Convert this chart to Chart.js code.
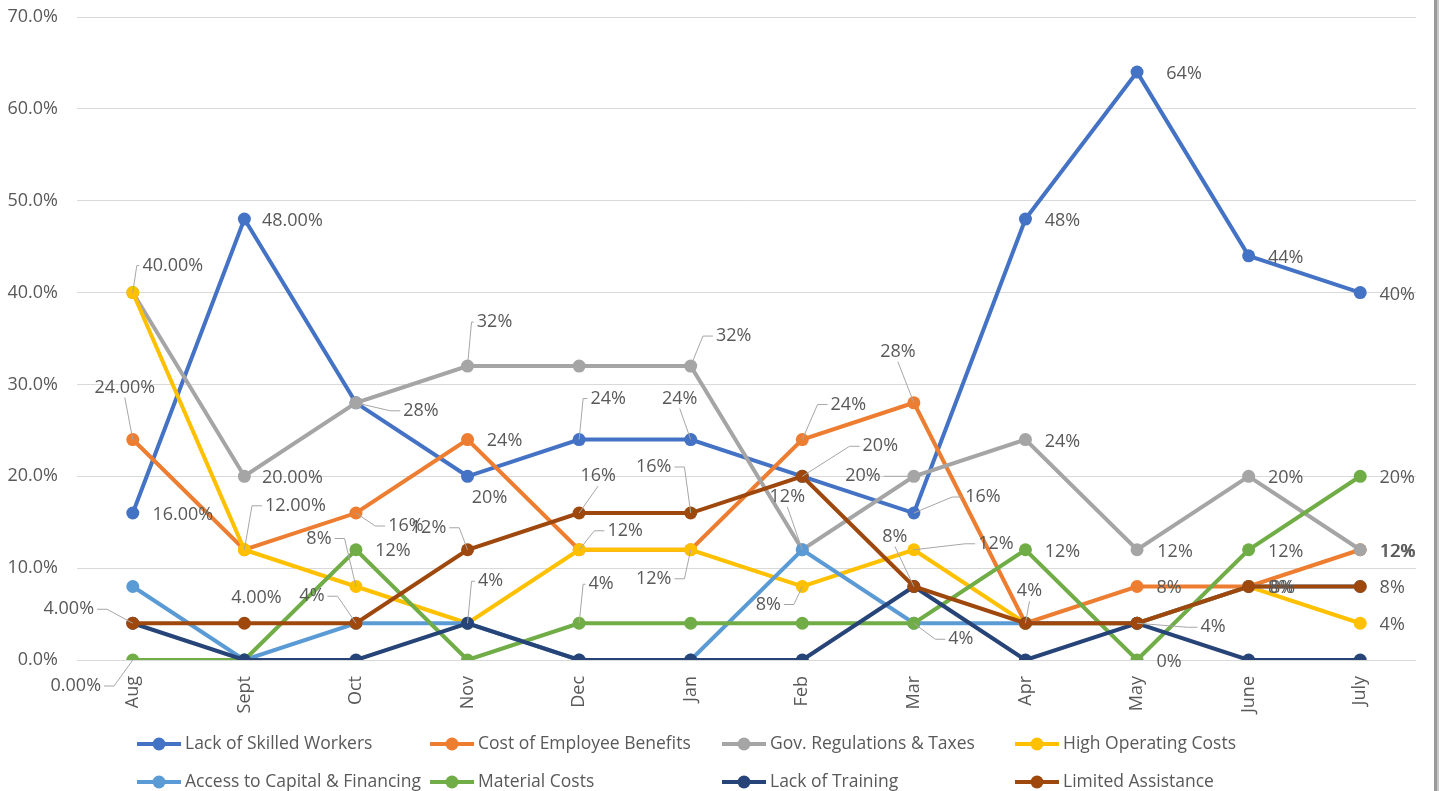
<!DOCTYPE html>
<html>
<head>
<meta charset="utf-8">
<script src="https://cdn.jsdelivr.net/npm/chart.js@4.4.1/dist/chart.umd.min.js"></script>
<style>
  body { margin: 0; background: #fff; }
  canvas { display: block; }
</style>
</head>
<body>
<canvas id="trend" width="1439" height="791"></canvas>
<script>
var months = ['Aug', 'Sept', 'Oct', 'Nov', 'Dec', 'Jan', 'Feb', 'Mar', 'Apr', 'May', 'June', 'July'];
var yTicks = [0, 10, 20, 30, 40, 50, 60, 70];

var seriesNames = ['Lack of Skilled Workers', 'Cost of Employee Benefits', 'Gov. Regulations & Taxes', 'High Operating Costs',
                   'Access to Capital & Financing', 'Material Costs', 'Lack of Training', 'Limited Assistance'];
var skilledWorkers    = [16, 48, 28, 20, 24, 24, 20, 16, 48, 64, 44, 40];
var employeeBenefits  = [24, 12, 16, 24, 12, 12, 24, 28, 4, 8, 8, 12];
var govRegulations    = [40, 20, 28, 32, 32, 32, 12, 20, 24, 12, 20, 12];
var operatingCosts    = [40, 12, 8, 4, 12, 12, 8, 12, 4, 4, 8, 4];
var capitalAccess     = [8, 0, 4, 4, 0, 0, 12, 4, 4, 4, 8, 8];
var materialCosts     = [0, 0, 12, 0, 4, 4, 4, 4, 12, 0, 12, 20];
var lackTraining      = [4, 0, 0, 4, 0, 0, 0, 8, 0, 4, 0, 0];
var limitedAssistance = [4, 4, 4, 12, 16, 16, 20, 8, 4, 4, 8, 8];

var seriesData = [skilledWorkers, employeeBenefits, govRegulations, operatingCosts,
                  capitalAccess, materialCosts, lackTraining, limitedAssistance];
var colors = ['#4472C4', '#ED7D31', '#A5A5A5', '#FFC000', '#5B9BD5', '#70AD47', '#264478', '#9E480E'];

// data labels: [series, point, dx, dy, leader, decimals]
var labelSpecs = [
    [3, 0, 40, -27, 1, 2], [1, 0, -8, -52, 1, 2], [0, 0, 50, 2, 0, 2], [7, 0, -64, -14, 1, 2], [5, 0, -57, 26, 1, 2],
    [0, 1, 48, 2, 0, 2], [2, 1, 48, 2, 0, 2], [3, 1, 51, -44, 1, 2], [7, 1, 12, -25, 0, 2],
    [2, 2, 65, 8, 1, 0], [1, 2, 50, 13, 1, 0], [3, 2, -37, -48, 1, 0], [5, 2, 37, 1, 0, 0], [7, 2, -44, -27, 1, 0],
    [2, 3, 27, -44, 1, 0], [1, 3, 37, 1, 0, 0], [0, 3, 22, 22, 0, 0], [7, 3, -39, -22, 1, 0], [6, 3, 23, -42, 1, 0],
    [0, 4, 29, -41, 1, 0], [7, 4, 19, -37, 1, 0], [3, 4, 46, -19, 1, 0], [5, 4, 22, -39, 1, 0],
    [0, 5, -11, -41, 1, 0], [2, 5, 43, -30, 1, 0], [7, 5, -37, -46, 1, 0], [1, 5, -37, 29, 1, 0],
    [1, 6, 46, -35, 1, 0], [7, 6, 78, -30, 1, 0], [4, 6, -15, -53, 1, 0], [3, 6, -34, 18, 1, 0],
    [1, 7, -16, -51, 1, 0], [2, 7, -51, 0, 1, 0], [0, 7, 69, -16, 1, 0], [3, 7, 82, -6, 1, 0], [7, 7, -19, -50, 1, 0], [5, 7, 47, 16, 1, 0],
    [0, 8, 37, 2, 0, 0], [2, 8, 37, 2, 0, 0], [5, 8, 37, 2, 0, 0], [7, 8, 4, -32, 1, 0],
    [0, 9, 47, 2, 0, 0], [2, 9, 38, 2, 0, 0], [1, 9, 32, 1, 0, 0], [7, 9, 76, 4, 1, 0], [5, 9, 32, 2, 0, 0],
    [0, 10, 37, 2, 0, 0], [2, 10, 37, 2, 0, 0], [5, 10, 37, 2, 0, 0], [1, 10, 32, 1, 0, 0], [7, 10, 34, 1, 0, 0],
    [0, 11, 37, 2, 0, 0], [5, 11, 37, 2, 0, 0], [2, 11, 37, 2, 0, 0], [1, 11, 38, 2, 0, 0], [7, 11, 32, 1, 0, 0], [3, 11, 32, 2, 0, 0]
];

var FONT = '18px "Open Sans"';
var LEGEND_FONT = '17.5px "Open Sans"';
var TEXT = '#595959';

var labelsPlugin = {
    id: 'pointLabels',
    afterDatasetsDraw: function (chart) {
        var ctx = chart.ctx;
        ctx.save();
        ctx.font = FONT;
        ctx.textAlign = 'center';
        ctx.textBaseline = 'middle';
        labelSpecs.forEach(function (s) {
            var pt = chart.getDatasetMeta(s[0]).data[s[1]];
            var v = seriesData[s[0]][s[1]];
            var txt = v.toFixed(s[5]) + '%';
            var lx = pt.x + s[2], ly = pt.y + s[3];
            if (s[4]) {
                var w = ctx.measureText(txt).width, h = 14;
                ctx.strokeStyle = '#A6A6A6';
                ctx.lineWidth = 1;
                ctx.beginPath();
                if (Math.abs(s[3]) > h / 2 + 6 && Math.abs(s[2]) < w / 2 + 8) {
                    var sy = ly + (s[3] < 0 ? h / 2 + 3 : -(h / 2 + 3));
                    ctx.moveTo(lx, sy);
                } else {
                    var dir = s[2] > 0 ? -1 : 1;
                    var sx = lx + dir * (w / 2 + 3);
                    var tick = Math.max(0, Math.min(10, Math.abs(sx - pt.x) - 4));
                    ctx.moveTo(sx, ly);
                    sx += dir * tick;
                    ctx.lineTo(sx, ly);
                }
                ctx.lineTo(pt.x, pt.y);
                ctx.stroke();
            }
            ctx.fillStyle = TEXT;
            ctx.fillText(txt, lx, ly);
        });
        ctx.restore();
    },
    afterDraw: function (chart) {
        var ctx = chart.ctx;
        ctx.save();
        var cols = [137, 430, 722, 1015], rows = [744, 782];
        ctx.font = LEGEND_FONT;
        ctx.textBaseline = 'middle';
        ctx.textAlign = 'left';
        for (var i = 0; i < seriesNames.length; i++) {
            var x = cols[i % 4], y = rows[Math.floor(i / 4)];
            ctx.strokeStyle = colors[i];
            ctx.fillStyle = colors[i];
            ctx.lineWidth = 4;
            ctx.beginPath();
            ctx.moveTo(x, y);
            ctx.lineTo(x + 44, y);
            ctx.stroke();
            ctx.beginPath();
            ctx.arc(x + 22, y, 6.5, 0, Math.PI * 2);
            ctx.fill();
            ctx.fillStyle = TEXT;
            ctx.fillText(seriesNames[i], x + 48, y);
        }
        // window edge on the right
        ctx.fillStyle = '#9a9a9a';
        ctx.fillRect(1434, 0, 3, 791);
        ctx.fillStyle = '#c8c8c8';
        ctx.fillRect(1437, 0, 2, 791);
        ctx.restore();
    }
};

function draw() {
    Chart.defaults.font.family = '"Open Sans"';
    Chart.defaults.font.size = 18;
    Chart.defaults.color = TEXT;

    var datasets = [];
    for (var i = 0; i < seriesData.length; i++) {
        datasets.push({
            label: seriesNames[i],
            data: seriesData[i],
            borderColor: colors[i],
            backgroundColor: colors[i],
            borderWidth: 4,
            pointRadius: 6.5,
            pointBorderWidth: 0,
            tension: 0,
            order: seriesData.length - i
        });
    }

    var ctx = document.getElementById("trend");
    var myChart = new Chart(ctx, {
        type: 'line',
        data: { labels: months, datasets: datasets },
        options: {
            responsive: false,
            animation: false,
            layout: { padding: { top: 17, right: 23, left: 0, bottom: 0 } },
            plugins: { legend: { display: false }, tooltip: { enabled: false } },
            scales: {
                x: {
                    offset: true,
                    grid: { display: false },
                    border: { display: false },
                    ticks: { maxRotation: 90, minRotation: 90, padding: 8, color: TEXT },
                    afterFit: function (scale) {
                        scale.height = 131;
                        scale.paddingLeft = 0;
                        scale.paddingRight = 0;
                    }
                },
                y: {
                    min: 0,
                    max: 70,
                    grid: { color: '#D9D9D9', lineWidth: 1, drawTicks: false },
                    border: { display: false },
                    afterBuildTicks: function (scale) {
                        scale.ticks = yTicks.map(function (v) { return { value: v }; });
                    },
                    ticks: {
                        padding: 19,
                        color: TEXT,
                        callback: function (v) { return v.toFixed(1) + '%'; }
                    },
                    afterFit: function (scale) {
                        scale.width = 77;
                        scale.paddingTop = 0;
                        scale.paddingBottom = 0;
                    }
                }
            }
        },
        plugins: [labelsPlugin]
    });
}

if (document.fonts && document.fonts.load) {
    document.fonts.load(FONT).then(draw, draw);
} else {
    draw();
}
</script>
</body>
</html>
